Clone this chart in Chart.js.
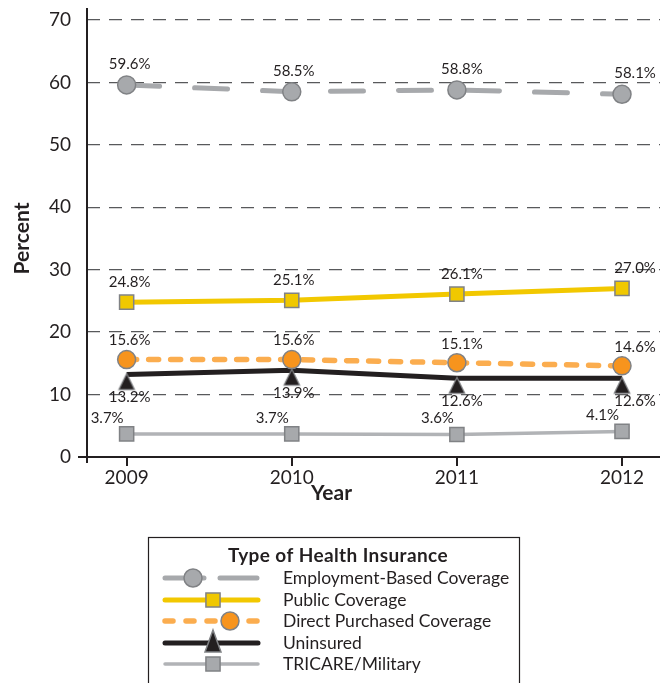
<!DOCTYPE html>
<html>
<head>
<meta charset="utf-8">
<script src="https://cdn.jsdelivr.net/npm/chart.js@4.4.0/dist/chart.umd.min.js"></script>
<style>
  html, body { margin: 0; padding: 0; background: #fff; }
  #wrap { width: 663px; height: 683px; }
</style>
</head>
<body>
<div id="wrap"><canvas id="myChart"></canvas></div>
<script>
// values
const years = [2009, 2010, 2011, 2012];
const employment = [59.6, 58.5, 58.8, 58.1];
const publicCov = [24.8, 25.1, 26.1, 27.0];
const directPurchased = [15.6, 15.6, 15.1, 14.6];
const uninsured = [13.2, 13.9, 12.6, 12.6];
const tricare = [3.7, 3.7, 3.6, 4.1];
const seriesNames = ['Employment-Based Coverage', 'Public Coverage', 'Direct Purchased Coverage', 'Uninsured', 'TRICARE/Military'];

const FONT = 'Lato';
const INK = '#231f20';

function pts(arr) {
  return years.map((x, i) => ({ x: x, y: arr[i] }));
}

// triangle that hangs below the line (apex sits on the data point)
const hangingTriangle = document.createElement('canvas');
hangingTriangle.width = 20;
hangingTriangle.height = 40;
(function () {
  const c = hangingTriangle.getContext('2d');
  c.fillStyle = INK;
  c.strokeStyle = '#808285';
  c.lineWidth = 1.2;
  c.beginPath();
  c.moveTo(10, 19);
  c.lineTo(17.8, 35);
  c.lineTo(2.2, 35);
  c.closePath();
  c.fill();
  c.stroke();
})();

// marker drawing for the legend samples
function marker(ctx, style, x, y, r, fill, stroke) {
  ctx.save();
  ctx.setLineDash([]);
  ctx.fillStyle = fill;
  ctx.strokeStyle = stroke;
  ctx.lineWidth = 1.5;
  ctx.beginPath();
  if (style === 'circle') {
    ctx.arc(x, y, r, 0, Math.PI * 2);
  } else if (style === 'rect') {
    const s = Math.SQRT1_2 * r;
    ctx.rect(x - s, y - s, 2 * s, 2 * s);
  } else if (style === 'triangle') {
    ctx.moveTo(x, y - 13);
    ctx.lineTo(x + 8, y + 9);
    ctx.lineTo(x - 8, y + 9);
    ctx.closePath();
  }
  ctx.fill();
  ctx.stroke();
  ctx.restore();
}

const axisLines = {
  id: 'axisLines',
  beforeDatasetsDraw(chart) {
    const { ctx, chartArea: a } = chart;
    ctx.save();
    ctx.strokeStyle = INK;
    ctx.lineWidth = 2;
    ctx.beginPath();
    ctx.moveTo(a.left, a.top - 12);
    ctx.lineTo(a.left, a.bottom + 6);
    ctx.moveTo(a.left - 9, a.bottom);
    ctx.lineTo(a.right, a.bottom);
    ctx.stroke();
    // x title sits centred on the page, not on the plot
    ctx.fillStyle = INK;
    ctx.font = 'bold 21px ' + FONT;
    ctx.textAlign = 'center';
    ctx.textBaseline = 'middle';
    ctx.fillText('Year', chart.width / 2, 493);
    ctx.restore();
  }
};

const valueLabels = {
  id: 'valueLabels',
  afterDatasetsDraw(chart, args, opts) {
    const ctx = chart.ctx;
    ctx.save();
    ctx.font = '15px ' + FONT;
    ctx.fillStyle = INK;
    ctx.textBaseline = 'middle';
    chart.data.datasets.forEach((ds, di) => {
      const o = opts.offsets[di];
      chart.getDatasetMeta(di).data.forEach((pt, i) => {
        ctx.textAlign = o.align;
        const dx = o.align === 'center' ? opts.columnShift[i] : o.dx;
        ctx.fillText(ds.data[i].y.toFixed(1) + '%', pt.x + dx, pt.y + o.dy);
      });
    });
    ctx.restore();
  }
};

const legendStyles = ['circle', 'rect', 'circle', 'triangle', 'rect'];

const boxLegend = {
  id: 'boxLegend',
  afterDraw(chart) {
    const ctx = chart.ctx;
    const ds = chart.data.datasets;
    ctx.save();
    ctx.strokeStyle = INK;
    ctx.lineWidth = 1.2;
    ctx.strokeRect(148.5, 537.5, 371, 200);

    ctx.fillStyle = INK;
    ctx.textAlign = 'center';
    ctx.textBaseline = 'middle';
    ctx.font = 'bold 19px ' + FONT;
    ctx.letterSpacing = '0.4px';
    ctx.fillText('Type of Health Insurance', 338, 556);
    ctx.letterSpacing = '0px';

    const rows = [578, 600, 621, 643, 664];
    const markX = [193, 213, 230, 213, 213];
    rows.forEach((y, i) => {
      const d = ds[i];
      ctx.save();
      ctx.strokeStyle = d.borderColor;
      ctx.lineWidth = d.borderWidth;
      ctx.lineCap = 'round';
      ctx.beginPath();
      if (i === 0) {
        ctx.moveTo(165, y); ctx.lineTo(204, y);
        ctx.moveTo(220, y); ctx.lineTo(257, y);
      } else if (i === 2) {
        ctx.setLineDash([8, 13]);
        ctx.moveTo(165, y); ctx.lineTo(258, y);
      } else {
        ctx.moveTo(165, y); ctx.lineTo(258, y);
      }
      ctx.stroke();
      ctx.restore();
      marker(ctx, legendStyles[i], markX[i], y, i === 1 || i === 4 ? 10 : 9, d.pointBackgroundColor, d.pointBorderColor);

      ctx.fillStyle = INK;
      ctx.textAlign = 'left';
      ctx.font = '17.5px ' + FONT;
      ctx.fillText(seriesNames[i], 283, y);
    });
    ctx.restore();
  }
};

const ctx = document.getElementById('myChart').getContext('2d');
new Chart(ctx, {
  type: 'line',
  data: {
    datasets: [{
      label: seriesNames[0],
      data: pts(employment),
      borderColor: '#a7a9ac',
      borderWidth: 5,
      borderDash: [33, 35],
      borderCapStyle: 'round',
      pointStyle: 'circle',
      pointRadius: 9,
      pointBackgroundColor: '#a7a9ac',
      pointBorderColor: '#808285',
      pointBorderWidth: 1.5
    }, {
      label: seriesNames[1],
      data: pts(publicCov),
      borderColor: '#f2c800',
      borderWidth: 5,
      pointStyle: 'rect',
      pointRadius: 10,
      pointBackgroundColor: '#f0c800',
      pointBorderColor: '#808285',
      pointBorderWidth: 1.5
    }, {
      label: seriesNames[2],
      data: pts(directPurchased),
      borderColor: '#fbad4f',
      borderWidth: 5.5,
      borderDash: [10, 12],
      borderCapStyle: 'round',
      pointStyle: 'circle',
      pointRadius: 9,
      pointBackgroundColor: '#f7941d',
      pointBorderColor: '#808285',
      pointBorderWidth: 1.5
    }, {
      label: seriesNames[3],
      data: pts(uninsured),
      borderColor: INK,
      borderWidth: 5,
      pointStyle: hangingTriangle,
      pointRadius: 9,
      pointBackgroundColor: INK,
      pointBorderColor: '#808285',
      pointBorderWidth: 1.2
    }, {
      label: seriesNames[4],
      data: pts(tricare),
      borderColor: '#b1b3b6',
      borderWidth: 3.5,
      pointStyle: 'rect',
      pointRadius: 10,
      pointBackgroundColor: '#a7a9ac',
      pointBorderColor: '#808285',
      pointBorderWidth: 1.5
    }]
  },
  options: {
    responsive: true,
    maintainAspectRatio: false,
    animation: false,
    events: [],
    layout: { autoPadding: false, padding: { top: 20, right: 3, bottom: 177, left: 0 } },
    plugins: {
      legend: { display: false },
      tooltip: { enabled: false },
      valueLabels: {
        columnShift: [3, 2, 5, 13],
        offsets: [
          { align: 'center', dy: -21 },
          { align: 'center', dy: -20 },
          { align: 'center', dy: -19 },
          { align: 'center', dy: 23 },
          { align: 'right', dx: -3, dy: -16 }
        ]
      }
    },
    scales: {
      x: {
        type: 'linear',
        min: 2008.76,
        max: 2012.23,
        afterBuildTicks: s => { s.ticks = years.map(v => ({ value: v })); },
        afterFit: s => { s.height = 49; s.paddingLeft = 0; s.paddingRight = 0; },
        grid: { drawOnChartArea: false, drawTicks: true, tickLength: 9, color: INK, lineWidth: 2 },
        border: { display: false },
        ticks: {
          callback: v => String(v),
          padding: 0,
          autoSkip: false,
          maxRotation: 0,
          color: INK,
          font: { family: FONT, size: 19 }
        },
        title: { display: false, text: 'Year' }
      },
      y: {
        min: 0,
        max: 70,
        afterFit: s => { s.width = 87; s.paddingTop = 0; s.paddingBottom = 0; },
        grid: { color: '#58595b', lineWidth: 1.3, drawTicks: false },
        border: { display: false, dash: [13, 9] },
        ticks: {
          stepSize: 10,
          padding: 16,
          color: INK,
          font: { family: FONT, size: 19 }
        },
        title: {
          display: true,
          text: 'Percent',
          color: INK,
          font: { family: FONT, size: 21, weight: 'bold' },
          padding: { top: 10, bottom: 0 }
        }
      }
    }
  },
  plugins: [axisLines, valueLabels, boxLegend]
});
</script>
</body>
</html>
